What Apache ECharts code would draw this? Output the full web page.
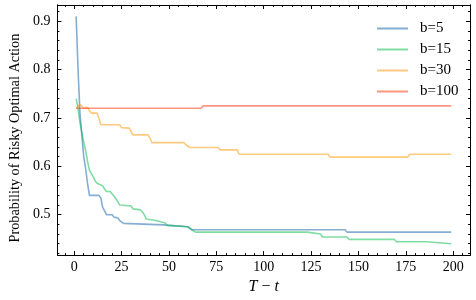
<!DOCTYPE html>
<html><head><meta charset="utf-8">
<script src="https://cdn.jsdelivr.net/npm/echarts@6/dist/echarts.min.js"></script>
<style>html,body{margin:0;padding:0;background:#fff}#c{width:476px;height:300px}</style>
</head><body><div id="c"></div>
<script>
const seriesNames = ['b=5', 'b=15', 'b=30', 'b=100'];
const b5 = [[1,0.91],[2,0.80],[3,0.71],[4,0.665],[5,0.62],[6,0.595],[7,0.565],[8,0.54],[13,0.54],[14,0.535],[15,0.515],[16,0.508],[17,0.50],[20,0.50],[21,0.495],[23,0.493],[24,0.488],[25,0.485],[26,0.482],[27,0.479],[47,0.479],[48,0.475],[60,0.475],[61,0.471],[62,0.469],[143,0.469],[144,0.464],[199,0.464]];
const b15 = [[1,0.74],[2,0.72],[3,0.69],[4,0.67],[5,0.65],[6,0.633],[7,0.61],[8,0.592],[9,0.588],[10,0.578],[11,0.57],[12,0.565],[13,0.562],[15,0.56],[16,0.553],[17,0.548],[19,0.548],[20,0.543],[21,0.538],[22,0.533],[23,0.527],[24,0.52],[30,0.518],[31,0.512],[35,0.51],[36,0.505],[37,0.50],[38,0.491],[43,0.488],[44,0.485],[48,0.483],[49,0.478],[50,0.475],[60,0.475],[61,0.472],[62,0.469],[63,0.466],[64,0.464],[123,0.464],[124,0.46],[130,0.46],[131,0.454],[144,0.454],[145,0.449],[169,0.449],[170,0.444],[186,0.444],[187,0.44],[199,0.44]];
const b30 = [[1,0.72],[2,0.722],[3,0.728],[4,0.728],[5,0.72],[6,0.723],[7,0.722],[8,0.72],[9,0.71],[12,0.71],[13,0.70],[14,0.686],[24,0.686],[25,0.68],[29,0.679],[30,0.672],[31,0.665],[39,0.665],[40,0.658],[41,0.649],[58,0.649],[59,0.644],[60,0.644],[61,0.639],[76,0.639],[77,0.634],[86,0.634],[87,0.625],[134,0.625],[135,0.619],[176,0.619],[177,0.625],[199,0.625]];
const b100 = [[1,0.72],[67,0.72],[68,0.725],[199,0.725]];
const xTicks = [0,25,50,75,100,125,150,175,200];
const yTicks = [0.5,0.6,0.7,0.8,0.9];
const xMinor = []; for (let v = -5; v <= 205; v += 5) xMinor.push(v);
const yMinor = []; for (let i = 21; i <= 46; i++) yMinor.push(+(i*0.02).toFixed(2));

const colors = ['rgba(12,93,165,0.5)','rgba(0,185,69,0.5)','rgba(255,149,0,0.5)','rgba(255,44,0,0.5)'];
const xMin = -8.9, xMax = 208.9, yMin = 0.4165, yMax = 0.9335;
const serif = 'Liberation Serif';

function xAx(pos, ticks, len, labels, name) {
  return {type:'value', position:pos, min:xMin, max:xMax,
    axisLine:{show:true, onZero:false, lineStyle:{color:'#000', width:1}},
    axisTick:{show:true, inside:true, length:len, customValues:ticks, lineStyle:{color:'#000', width:1}},
    axisLabel:{show:labels, customValues:ticks, margin:5, fontFamily:serif, fontSize:14, color:'#000'},
    splitLine:{show:false},
    name: name || '', nameLocation:'middle', nameGap:23,
    nameTextStyle:{fontFamily:serif, fontSize:16, color:'#000',
      rich:{i:{fontFamily:serif, fontStyle:'italic', fontSize:16, color:'#000'}}}
  };
}
function yAx(pos, ticks, len, labels, name) {
  return {type:'value', position:pos, min:yMin, max:yMax,
    axisLine:{show:true, onZero:false, lineStyle:{color:'#000', width:1}},
    axisTick:{show:true, inside:true, length:len, customValues:ticks, lineStyle:{color:'#000', width:1}},
    axisLabel:{show:labels, customValues:ticks, margin:7, fontFamily:serif, fontSize:14, color:'#000',
      formatter: v => v.toFixed(1)},
    splitLine:{show:false},
    name: name || '', nameLocation:'middle', nameGap:34,
    nameTextStyle:{fontFamily:serif, fontSize:14.3, color:'#000', padding:[0,16,0,0]}
  };
}

const chart = echarts.init(document.getElementById('c'), null, {renderer:'canvas'});
chart.setOption({
  animation:false,
  grid:{left:49, right:6, top:5, bottom:44},
  xAxis:[
    xAx('bottom', xTicks, 4, true, '{i|T} − {i|t}'),
    xAx('bottom', xMinor, 2, false),
    xAx('top', xTicks, 4, false),
    xAx('top', xMinor, 2, false)
  ],
  yAxis:[
    yAx('left', yTicks, 4, true, 'Probability of Risky Optimal Action'),
    yAx('left', yMinor, 2, false),
    yAx('right', yTicks, 4, false),
    yAx('right', yMinor, 2, false)
  ],
  legend:{orient:'vertical', left:372, top:16, itemWidth:31, itemHeight:2, itemGap:6, icon:'rect',
    data:seriesNames,
    textStyle:{fontFamily:serif, fontSize:15, color:'#000', padding:[0,0,0,7]}},
  series:[b5,b15,b30,b100].map((d,i)=>({
    name:seriesNames[i], type:'line', data:d, showSymbol:false, symbol:'none',
    color:colors[i], lineStyle:{width:1.6, color:colors[i]}, xAxisIndex:0, yAxisIndex:0
  }))
});
</script></body></html>
